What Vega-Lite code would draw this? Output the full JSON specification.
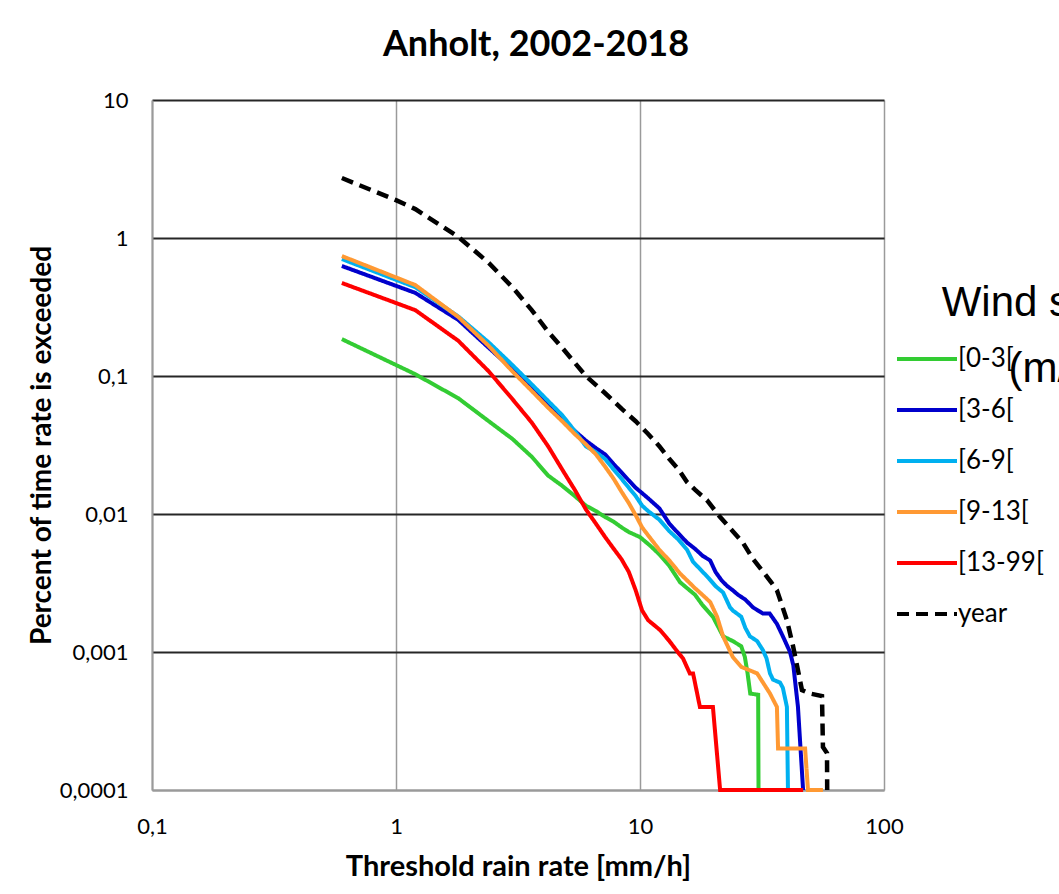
{
  "$schema": "https://vega.github.io/schema/vega-lite/v6.json",
  "width": 732,
  "height": 690,
  "autosize": {"type": "none"},
  "padding": {"left": 152, "top": 100, "right": 175, "bottom": 104},
  "background": "white",
  "config": {"font": "Lato", "view": {"stroke": null}},
  "title": {"text": "Anholt, 2002-2018", "fontSize": 36, "fontWeight": "bold", "font": "Lato", "color": "black", "anchor": "middle", "dx": 18, "offset": 25},
  "datasets": {
    "rain": [
      {"s": "[0-3[", "x": 0.6, "y": 0.185}, {"s": "[0-3[", "x": 1.2, "y": 0.103}, {"s": "[0-3[", "x": 1.8, "y": 0.069}, {"s": "[0-3[", "x": 2.4, "y": 0.047}, {"s": "[0-3[", "x": 3.0, "y": 0.035}, {"s": "[0-3[", "x": 3.6, "y": 0.026}, {"s": "[0-3[", "x": 4.2, "y": 0.019}, {"s": "[0-3[", "x": 4.8, "y": 0.016}, {"s": "[0-3[", "x": 5.4, "y": 0.0135}, {"s": "[0-3[", "x": 6.0, "y": 0.0115}, {"s": "[0-3[", "x": 6.6, "y": 0.0105}, {"s": "[0-3[", "x": 7.2, "y": 0.0095}, {"s": "[0-3[", "x": 7.8, "y": 0.0088}, {"s": "[0-3[", "x": 8.4, "y": 0.008}, {"s": "[0-3[", "x": 9.0, "y": 0.0074}, {"s": "[0-3[", "x": 10.0, "y": 0.0068}, {"s": "[0-3[", "x": 11.0, "y": 0.0059}, {"s": "[0-3[", "x": 12.0, "y": 0.0051}, {"s": "[0-3[", "x": 13.2, "y": 0.0042}, {"s": "[0-3[", "x": 14.6, "y": 0.0032}, {"s": "[0-3[", "x": 15.6, "y": 0.0029}, {"s": "[0-3[", "x": 16.8, "y": 0.0026}, {"s": "[0-3[", "x": 18.0, "y": 0.0022}, {"s": "[0-3[", "x": 19.9, "y": 0.0018}, {"s": "[0-3[", "x": 21.0, "y": 0.0015}, {"s": "[0-3[", "x": 21.9, "y": 0.0013}, {"s": "[0-3[", "x": 24.0, "y": 0.0012}, {"s": "[0-3[", "x": 26.0, "y": 0.0011}, {"s": "[0-3[", "x": 26.9, "y": 0.00092}, {"s": "[0-3[", "x": 27.6, "y": 0.0007}, {"s": "[0-3[", "x": 28.3, "y": 0.0005}, {"s": "[0-3[", "x": 30.5, "y": 0.00049}, {"s": "[0-3[", "x": 30.6, "y": 0.0001}, {"s": "[0-3[", "x": 46.6, "y": 0.0001},
      {"s": "[3-6[", "x": 0.6, "y": 0.627}, {"s": "[3-6[", "x": 1.2, "y": 0.40}, {"s": "[3-6[", "x": 1.8, "y": 0.255}, {"s": "[3-6[", "x": 2.4, "y": 0.16}, {"s": "[3-6[", "x": 3.0, "y": 0.112}, {"s": "[3-6[", "x": 3.6, "y": 0.082}, {"s": "[3-6[", "x": 4.2, "y": 0.062}, {"s": "[3-6[", "x": 4.8, "y": 0.048}, {"s": "[3-6[", "x": 5.4, "y": 0.040}, {"s": "[3-6[", "x": 6.0, "y": 0.034}, {"s": "[3-6[", "x": 6.6, "y": 0.030}, {"s": "[3-6[", "x": 7.2, "y": 0.027}, {"s": "[3-6[", "x": 7.8, "y": 0.023}, {"s": "[3-6[", "x": 8.4, "y": 0.020}, {"s": "[3-6[", "x": 9.0, "y": 0.0175}, {"s": "[3-6[", "x": 9.6, "y": 0.0155}, {"s": "[3-6[", "x": 10.8, "y": 0.013}, {"s": "[3-6[", "x": 12.0, "y": 0.011}, {"s": "[3-6[", "x": 13.2, "y": 0.0085}, {"s": "[3-6[", "x": 14.4, "y": 0.0072}, {"s": "[3-6[", "x": 15.6, "y": 0.0062}, {"s": "[3-6[", "x": 16.8, "y": 0.0056}, {"s": "[3-6[", "x": 18.0, "y": 0.0050}, {"s": "[3-6[", "x": 19.4, "y": 0.0046}, {"s": "[3-6[", "x": 20.4, "y": 0.0038}, {"s": "[3-6[", "x": 21.6, "y": 0.0033}, {"s": "[3-6[", "x": 22.8, "y": 0.0030}, {"s": "[3-6[", "x": 24.0, "y": 0.0028}, {"s": "[3-6[", "x": 25.2, "y": 0.0026}, {"s": "[3-6[", "x": 27.0, "y": 0.0024}, {"s": "[3-6[", "x": 29.1, "y": 0.0021}, {"s": "[3-6[", "x": 31.9, "y": 0.0019}, {"s": "[3-6[", "x": 34.0, "y": 0.0019}, {"s": "[3-6[", "x": 36.4, "y": 0.0016}, {"s": "[3-6[", "x": 38.5, "y": 0.0013}, {"s": "[3-6[", "x": 41.2, "y": 0.001}, {"s": "[3-6[", "x": 42.5, "y": 0.0008}, {"s": "[3-6[", "x": 44.4, "y": 0.0004}, {"s": "[3-6[", "x": 46.6, "y": 0.0001},
      {"s": "[6-9[", "x": 0.6, "y": 0.704}, {"s": "[6-9[", "x": 1.2, "y": 0.44}, {"s": "[6-9[", "x": 1.8, "y": 0.27}, {"s": "[6-9[", "x": 2.4, "y": 0.175}, {"s": "[6-9[", "x": 3.0, "y": 0.12}, {"s": "[6-9[", "x": 3.6, "y": 0.087}, {"s": "[6-9[", "x": 4.2, "y": 0.066}, {"s": "[6-9[", "x": 4.8, "y": 0.052}, {"s": "[6-9[", "x": 5.4, "y": 0.040}, {"s": "[6-9[", "x": 6.0, "y": 0.031}, {"s": "[6-9[", "x": 6.6, "y": 0.028}, {"s": "[6-9[", "x": 7.2, "y": 0.025}, {"s": "[6-9[", "x": 7.8, "y": 0.021}, {"s": "[6-9[", "x": 8.4, "y": 0.018}, {"s": "[6-9[", "x": 9.0, "y": 0.0155}, {"s": "[6-9[", "x": 9.6, "y": 0.0135}, {"s": "[6-9[", "x": 10.2, "y": 0.0115}, {"s": "[6-9[", "x": 10.8, "y": 0.0105}, {"s": "[6-9[", "x": 12.0, "y": 0.0091}, {"s": "[6-9[", "x": 13.2, "y": 0.0075}, {"s": "[6-9[", "x": 14.4, "y": 0.0065}, {"s": "[6-9[", "x": 15.6, "y": 0.0055}, {"s": "[6-9[", "x": 16.5, "y": 0.0045}, {"s": "[6-9[", "x": 17.6, "y": 0.0040}, {"s": "[6-9[", "x": 19.2, "y": 0.0034}, {"s": "[6-9[", "x": 20.4, "y": 0.0030}, {"s": "[6-9[", "x": 21.9, "y": 0.0027}, {"s": "[6-9[", "x": 23.4, "y": 0.0021}, {"s": "[6-9[", "x": 24.0, "y": 0.0020}, {"s": "[6-9[", "x": 26.0, "y": 0.0018}, {"s": "[6-9[", "x": 27.0, "y": 0.0015}, {"s": "[6-9[", "x": 28.2, "y": 0.0013}, {"s": "[6-9[", "x": 30.2, "y": 0.0012}, {"s": "[6-9[", "x": 31.9, "y": 0.00103}, {"s": "[6-9[", "x": 33.0, "y": 0.0009}, {"s": "[6-9[", "x": 34.1, "y": 0.0007}, {"s": "[6-9[", "x": 35.1, "y": 0.00063}, {"s": "[6-9[", "x": 37.5, "y": 0.0006}, {"s": "[6-9[", "x": 38.5, "y": 0.00055}, {"s": "[6-9[", "x": 40.0, "y": 0.0004}, {"s": "[6-9[", "x": 40.4, "y": 0.0001}, {"s": "[6-9[", "x": 46.6, "y": 0.0001},
      {"s": "[9-13[", "x": 0.6, "y": 0.74}, {"s": "[9-13[", "x": 1.2, "y": 0.456}, {"s": "[9-13[", "x": 1.8, "y": 0.268}, {"s": "[9-13[", "x": 2.4, "y": 0.165}, {"s": "[9-13[", "x": 3.0, "y": 0.108}, {"s": "[9-13[", "x": 3.6, "y": 0.078}, {"s": "[9-13[", "x": 4.2, "y": 0.059}, {"s": "[9-13[", "x": 4.8, "y": 0.047}, {"s": "[9-13[", "x": 5.4, "y": 0.038}, {"s": "[9-13[", "x": 6.0, "y": 0.032}, {"s": "[9-13[", "x": 6.6, "y": 0.027}, {"s": "[9-13[", "x": 7.2, "y": 0.022}, {"s": "[9-13[", "x": 7.8, "y": 0.018}, {"s": "[9-13[", "x": 8.4, "y": 0.0145}, {"s": "[9-13[", "x": 9.0, "y": 0.012}, {"s": "[9-13[", "x": 9.6, "y": 0.0098}, {"s": "[9-13[", "x": 10.2, "y": 0.008}, {"s": "[9-13[", "x": 10.8, "y": 0.007}, {"s": "[9-13[", "x": 12.0, "y": 0.0055}, {"s": "[9-13[", "x": 13.2, "y": 0.0046}, {"s": "[9-13[", "x": 14.6, "y": 0.0037}, {"s": "[9-13[", "x": 15.6, "y": 0.0033}, {"s": "[9-13[", "x": 16.8, "y": 0.0029}, {"s": "[9-13[", "x": 18.0, "y": 0.0026}, {"s": "[9-13[", "x": 19.4, "y": 0.0023}, {"s": "[9-13[", "x": 20.7, "y": 0.0018}, {"s": "[9-13[", "x": 21.9, "y": 0.0013}, {"s": "[9-13[", "x": 24.0, "y": 0.00092}, {"s": "[9-13[", "x": 26.0, "y": 0.00078}, {"s": "[9-13[", "x": 30.2, "y": 0.0007}, {"s": "[9-13[", "x": 34.1, "y": 0.0005}, {"s": "[9-13[", "x": 36.4, "y": 0.0004}, {"s": "[9-13[", "x": 36.8, "y": 0.0002}, {"s": "[9-13[", "x": 47.5, "y": 0.0002}, {"s": "[9-13[", "x": 48.8, "y": 0.0001}, {"s": "[9-13[", "x": 56.2, "y": 0.0001},
      {"s": "[13-99[", "x": 0.6, "y": 0.472}, {"s": "[13-99[", "x": 1.2, "y": 0.30}, {"s": "[13-99[", "x": 1.8, "y": 0.18}, {"s": "[13-99[", "x": 2.4, "y": 0.108}, {"s": "[13-99[", "x": 3.0, "y": 0.068}, {"s": "[13-99[", "x": 3.6, "y": 0.046}, {"s": "[13-99[", "x": 4.2, "y": 0.031}, {"s": "[13-99[", "x": 4.8, "y": 0.021}, {"s": "[13-99[", "x": 5.4, "y": 0.015}, {"s": "[13-99[", "x": 6.0, "y": 0.0108}, {"s": "[13-99[", "x": 6.6, "y": 0.0085}, {"s": "[13-99[", "x": 7.2, "y": 0.0068}, {"s": "[13-99[", "x": 7.8, "y": 0.0056}, {"s": "[13-99[", "x": 8.4, "y": 0.0047}, {"s": "[13-99[", "x": 9.0, "y": 0.0038}, {"s": "[13-99[", "x": 9.6, "y": 0.0028}, {"s": "[13-99[", "x": 10.2, "y": 0.002}, {"s": "[13-99[", "x": 10.8, "y": 0.0017}, {"s": "[13-99[", "x": 12.1, "y": 0.00144}, {"s": "[13-99[", "x": 13.2, "y": 0.0012}, {"s": "[13-99[", "x": 14.4, "y": 0.00098}, {"s": "[13-99[", "x": 15.0, "y": 0.0009}, {"s": "[13-99[", "x": 16.0, "y": 0.0007}, {"s": "[13-99[", "x": 16.5, "y": 0.0007}, {"s": "[13-99[", "x": 17.6, "y": 0.0004}, {"s": "[13-99[", "x": 19.9, "y": 0.0004}, {"s": "[13-99[", "x": 21.3, "y": 0.0001}, {"s": "[13-99[", "x": 46.6, "y": 0.0001},
      {"s": "year", "x": 0.6, "y": 2.72}, {"s": "year", "x": 1.0, "y": 1.88}, {"s": "year", "x": 1.2, "y": 1.62}, {"s": "year", "x": 1.8, "y": 1.02}, {"s": "year", "x": 2.4, "y": 0.66}, {"s": "year", "x": 3.0, "y": 0.44}, {"s": "year", "x": 3.6, "y": 0.30}, {"s": "year", "x": 4.2, "y": 0.21}, {"s": "year", "x": 4.8, "y": 0.16}, {"s": "year", "x": 6.0, "y": 0.10}, {"s": "year", "x": 7.2, "y": 0.075}, {"s": "year", "x": 8.4, "y": 0.058}, {"s": "year", "x": 9.6, "y": 0.047}, {"s": "year", "x": 10.8, "y": 0.038}, {"s": "year", "x": 12.0, "y": 0.031}, {"s": "year", "x": 13.2, "y": 0.025}, {"s": "year", "x": 14.4, "y": 0.021}, {"s": "year", "x": 15.6, "y": 0.017}, {"s": "year", "x": 16.8, "y": 0.015}, {"s": "year", "x": 18.8, "y": 0.0126}, {"s": "year", "x": 21.3, "y": 0.0095}, {"s": "year", "x": 24.0, "y": 0.0075}, {"s": "year", "x": 26.4, "y": 0.0062}, {"s": "year", "x": 29.1, "y": 0.0047}, {"s": "year", "x": 32.0, "y": 0.0038}, {"s": "year", "x": 34.5, "y": 0.0032}, {"s": "year", "x": 36.4, "y": 0.0028}, {"s": "year", "x": 37.5, "y": 0.0024}, {"s": "year", "x": 40.0, "y": 0.0017}, {"s": "year", "x": 42.4, "y": 0.0011}, {"s": "year", "x": 44.0, "y": 0.0008}, {"s": "year", "x": 46.1, "y": 0.00053}, {"s": "year", "x": 49.7, "y": 0.0005}, {"s": "year", "x": 55.7, "y": 0.00048}, {"s": "year", "x": 56.2, "y": 0.000205}, {"s": "year", "x": 58.4, "y": 0.000185}, {"s": "year", "x": 58.5, "y": 0.0001}
    ]
  },
  "data": {"name": "rain"},
  "encoding": {
    "x": {
      "field": "x", "type": "quantitative",
      "scale": {"type": "log", "domain": [0.1, 100], "nice": false},
      "axis": {
        "values": [0.1, 1, 10, 100],
        "labelExpr": "replace(format(datum.value, '~g'), '.', ',')",
        "grid": true, "gridColor": "#9a9a9a", "gridWidth": 1.5,
        "domain": true, "domainColor": "#9a9a9a", "domainWidth": 2,
        "ticks": false, "tickSize": 0,
        "labelFontSize": 22, "labelColor": "black", "labelPadding": 26, "labelFlush": false, "labelOverlap": false,
        "title": "Threshold rain rate [mm/h]", "titleFontSize": 29, "titleFontWeight": "bold", "titleColor": "black", "titlePadding": 15
      }
    },
    "y": {
      "field": "y", "type": "quantitative",
      "scale": {"type": "log", "domain": [0.0001, 10], "nice": false},
      "axis": {
        "values": [0.0001, 0.001, 0.01, 0.1, 1, 10],
        "labelExpr": "replace(format(datum.value, '~g'), '.', ',')",
        "grid": true,
        "gridColor": {"condition": {"test": "datum.value < 0.0002", "value": "#9a9a9a"}, "value": "#262626"},
        "gridWidth": 1.8,
        "domain": true, "domainColor": "#9a9a9a", "domainWidth": 2,
        "ticks": false, "tickSize": 0,
        "labelFontSize": 22, "labelColor": "black", "labelPadding": 24, "labelFlush": false, "labelOverlap": false,
        "title": "Percent of time rate is exceeded", "titleFontSize": 28, "titleFontWeight": "bold", "titleColor": "black", "titlePadding": 3
      }
    },
    "color": {
      "field": "s", "type": "nominal",
      "scale": {"domain": ["[0-3[", "[3-6[", "[6-9[", "[9-13[", "[13-99[", "year"], "range": ["#33CC33", "#0000CC", "#00B0F0", "#FF9933", "#FF0000", "#000000"]},
      "legend": {
        "orient": "none", "legendX": 743, "legendY": 183, "padding": 0,
        "title": ["\u200b\u00a0\u00a0\u00a0\u00a0Wind speed", "\u200b\u00a0\u00a0\u00a0\u00a0\u00a0\u00a0\u00a0\u00a0\u00a0\u2009(m/s)"],
        "titleFont": "Liberation Sans", "titleFontSize": 42, "titleFontWeight": "normal", "titleColor": "black",
        "titleLimit": 2000, "titleLineHeight": 66, "titlePadding": -49,
        "labelFont": "Lato", "labelFontSize": 26, "labelColor": "black", "labelOffset": 29, "labelLimit": 300,
        "symbolType": "M-1,0H3", "symbolSize": 900, "symbolStrokeWidth": 4, "rowPadding": 21
      }
    },
    "strokeDash": {
      "field": "s", "type": "nominal",
      "scale": {"domain": ["[0-3[", "[3-6[", "[6-9[", "[9-13[", "[13-99[", "year"], "range": [[1, 0], [1, 0], [1, 0], [1, 0], [1, 0], [12, 7]]}
    }
  },
  "layer": [
    {"transform": [{"filter": "datum.s !== 'year'"}], "mark": {"type": "line", "strokeWidth": 4}},
    {"transform": [{"filter": "datum.s === 'year'"}], "mark": {"type": "line", "strokeWidth": 4.5}}
  ]
}
